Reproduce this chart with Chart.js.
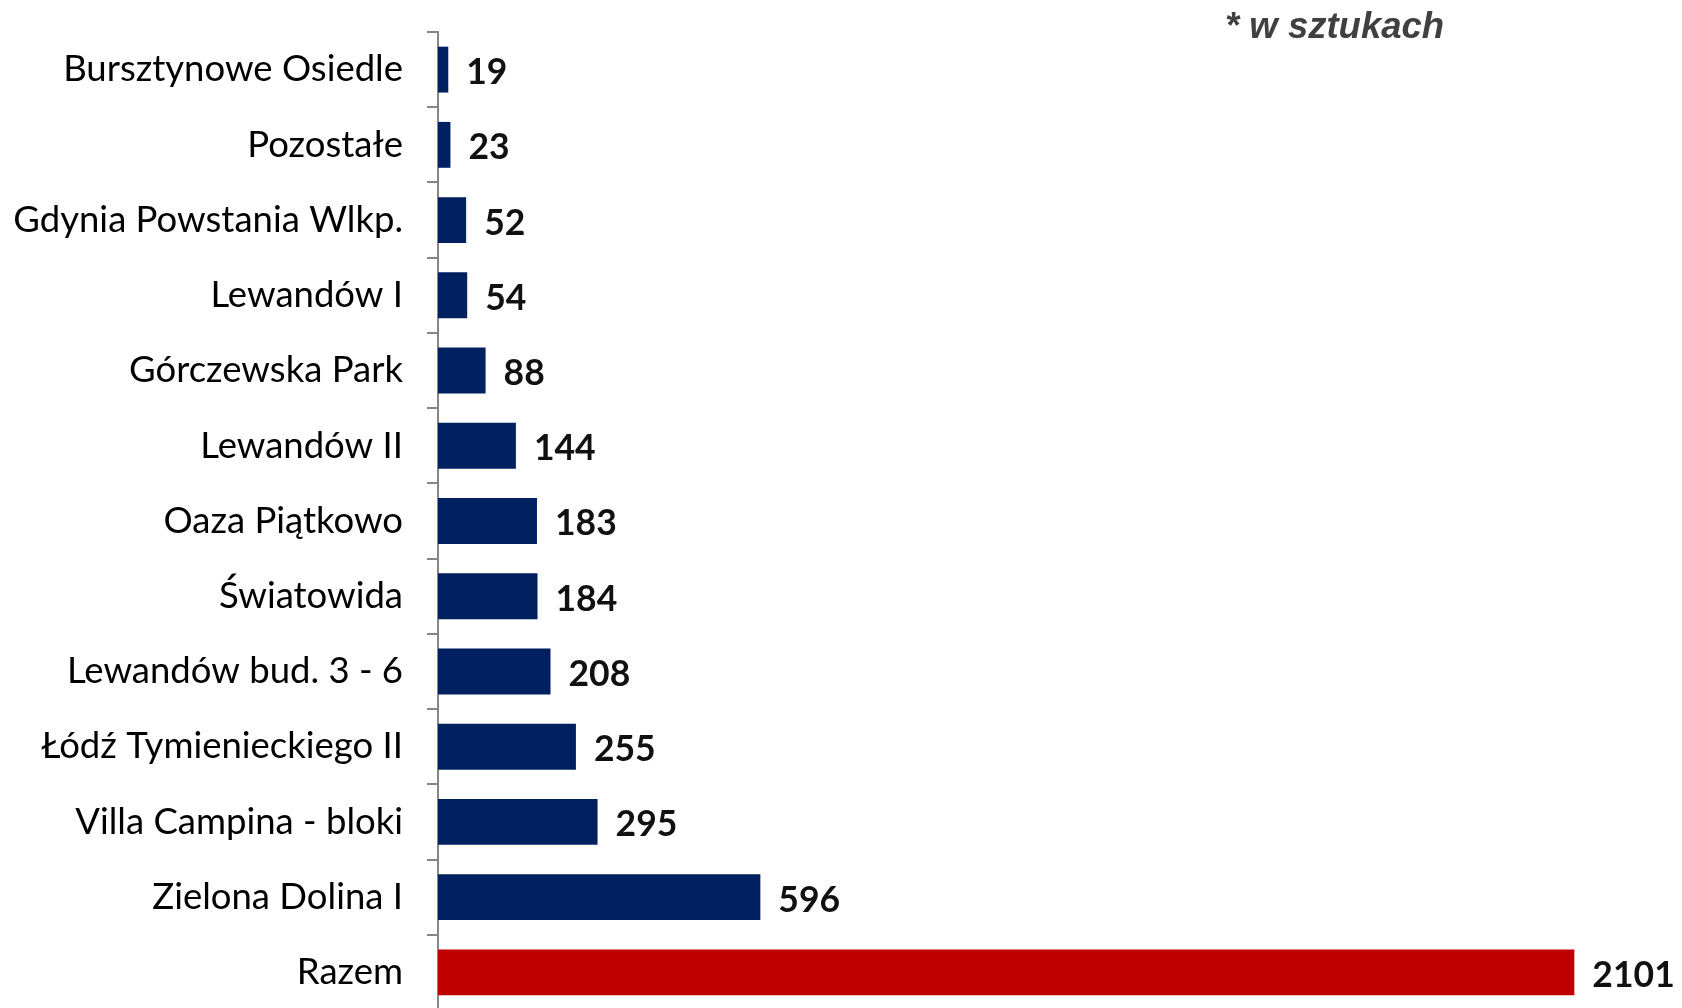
<!DOCTYPE html>
<html>
<head>
<meta charset="utf-8">
<script src="https://cdn.jsdelivr.net/npm/chart.js@4/dist/chart.umd.min.js"></script>
<style>
  html, body { margin: 0; padding: 0; background: #fff; overflow: hidden; }
  #wrap { position: relative; width: 1682px; height: 1010px; }
</style>
</head>
<body>
<div id="wrap"><canvas id="c"></canvas></div>
<script>
const categories = [
  "Bursztynowe Osiedle", "Pozostałe", "Gdynia Powstania Wlkp.", "Lewandów I",
  "Górczewska Park", "Lewandów II", "Oaza Piątkowo", "Światowida",
  "Lewandów bud. 3 - 6", "Łódź Tymienieckiego II", "Villa Campina - bloki",
  "Zielona Dolina I", "Razem"
];
const values = [19, 23, 52, 54, 88, 144, 183, 184, 208, 255, 295, 596, 2101];
const noteText = "* w sztukach";

const BLUE = "#002060", RED = "#C00000";
const barColors = categories.map(c => c === "Razem" ? RED : BLUE);

const labelFont = "Lato";

const valueLabels = {
  id: "valueLabels",
  afterDatasetsDraw(chart) {
    const ctx = chart.ctx;
    const meta = chart.getDatasetMeta(0);
    ctx.save();
    ctx.font = "bold 35.5px " + labelFont;
    ctx.fillStyle = "#111111";
    ctx.textAlign = "left";
    ctx.textBaseline = "middle";
    meta.data.forEach((bar, i) => {
      ctx.fillText(String(values[i]), bar.x + 18, bar.y + 3);
    });
    ctx.restore();
  }
};

const note = {
  id: "note",
  afterDraw(chart) {
    const ctx = chart.ctx;
    ctx.save();
    ctx.font = "italic bold 36.5px 'Liberation Sans'";
    ctx.fillStyle = "#404040";
    ctx.textAlign = "left";
    ctx.textBaseline = "alphabetic";
    ctx.fillText(noteText, 1225, 38);
    ctx.restore();
  }
};

new Chart(document.getElementById("c"), {
  type: "bar",
  data: {
    labels: categories,
    datasets: [{
      data: values,
      backgroundColor: barColors,
      borderWidth: 0,
      categoryPercentage: 1.0,
      barPercentage: 0.61
    }]
  },
  options: {
    indexAxis: "y",
    responsive: true,
    maintainAspectRatio: false,
    animation: false,
    layout: { padding: { top: 32, right: 0, bottom: 0, left: 0 } },
    plugins: { legend: { display: false }, tooltip: { enabled: false }, title: { display: false } },
    scales: {
      x: { display: false, min: 0, max: 2300 },
      y: {
        afterFit(scale) { scale.width = 438; scale.paddingTop = 0; scale.paddingBottom = 0; },
        grid: { drawOnChartArea: false, drawTicks: true, tickLength: 11, color: "#868686", lineWidth: 2, offset: true },
        border: { display: true, color: "#868686", width: 2 },
        ticks: {
          color: "#000000",
          padding: 24,
          font: { family: labelFont, size: 36.5 }
        }
      }
    }
  },
  plugins: [valueLabels, note]
});
</script>
</body>
</html>
